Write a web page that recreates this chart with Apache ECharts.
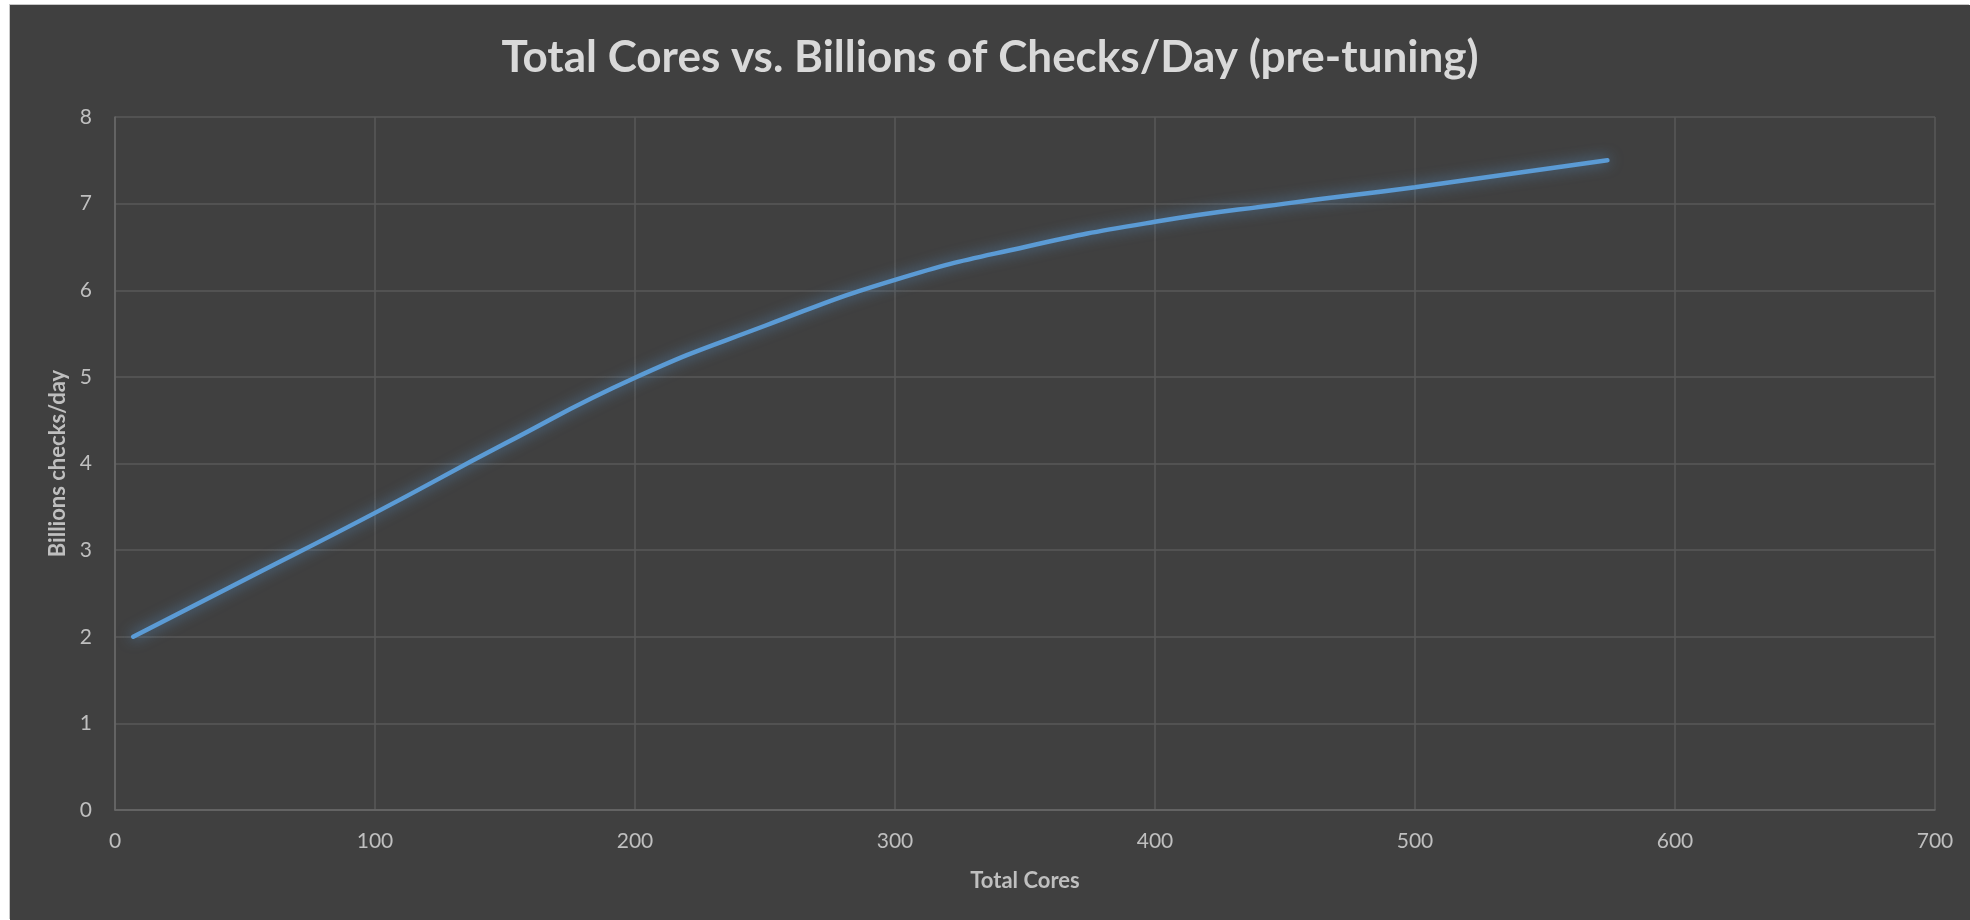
<!DOCTYPE html>
<html>
<head>
<meta charset="utf-8">
<title>Total Cores vs. Billions of Checks/Day</title>
<script src="https://cdn.jsdelivr.net/npm/echarts@6/dist/echarts.min.js"></script>
<style>
  html, body { margin: 0; padding: 0; background: #ffffff; }
  #chart {
    position: absolute;
    left: 10px;
    top: 5px;
    width: 1960px;
    height: 915px;
    background: #404040;
    box-shadow: -1px -1px 0 #c8c8c8;
  }
</style>
</head>
<body>
<div id="chart"></div>
<script>
// total cores (x) and billions of checks per day (y)
const cores = [7, 50, 100, 150, 200, 250, 300, 350, 400, 450, 500, 574];
const checks = [2.0, 2.66, 3.43, 4.23, 4.99, 5.59, 6.12, 6.5, 6.79, 7.0, 7.19, 7.5];

const xTicks = [0, 100, 200, 300, 400, 500, 600, 700];
const yTicks = [0, 1, 2, 3, 4, 5, 6, 7, 8];

const labelColor = '#bfbfbf';
const gridColor = '#595959';
const fontFamily = 'Lato, "Open Sans", sans-serif';

const chart = echarts.init(document.getElementById('chart'));

chart.setOption({
    backgroundColor: 'transparent',
    animation: false,
    title: {
        text: 'Total Cores vs. Billions of Checks/Day (pre-tuning)',
        left: 'center',
        top: 26,
        textStyle: {
            color: '#d9d9d9',
            fontFamily: fontFamily,
            fontWeight: 'bold',
            fontSize: 44
        }
    },
    grid: {
        left: 105,
        right: 35,
        top: 112,
        bottom: 110
    },
    xAxis: {
        type: 'value',
        min: xTicks[0],
        max: xTicks[xTicks.length - 1],
        interval: 100,
        name: 'Total Cores',
        nameLocation: 'middle',
        nameGap: 60,
        nameTextStyle: {
            color: labelColor,
            fontFamily: fontFamily,
            fontWeight: 'bold',
            fontSize: 22
        },
        axisLine: { show: true, lineStyle: { color: '#6a6a6a', width: 1.5 } },
        axisTick: { show: false },
        axisLabel: {
            color: labelColor,
            fontFamily: fontFamily,
            fontSize: 21,
            margin: 21
        },
        splitLine: { show: true, lineStyle: { color: gridColor, width: 1.5 } }
    },
    yAxis: {
        type: 'value',
        min: yTicks[0],
        max: yTicks[yTicks.length - 1],
        interval: 1,
        name: 'Billions checks/day',
        nameLocation: 'middle',
        nameGap: 43,
        nameRotate: 90,
        nameTextStyle: {
            color: labelColor,
            fontFamily: fontFamily,
            fontWeight: 'bold',
            fontSize: 22
        },
        axisLine: { show: true, lineStyle: { color: '#6a6a6a', width: 1.5 } },
        axisTick: { show: false },
        axisLabel: {
            color: labelColor,
            fontFamily: fontFamily,
            fontSize: 21,
            margin: 23
        },
        splitLine: { show: true, lineStyle: { color: gridColor, width: 1.5 } }
    },
    series: [
        {
            type: 'line',
            data: cores.map((c, i) => [c, checks[i]]),
            smooth: 0.5,
            showSymbol: false,
            lineStyle: {
                color: '#5b9bd5',
                width: 4.5,
                cap: 'round',
                shadowColor: 'rgba(91, 155, 213, 0.75)',
                shadowBlur: 14
            }
        }
    ]
});

window.addEventListener('resize', () => chart.resize());
</script>
</body>
</html>
